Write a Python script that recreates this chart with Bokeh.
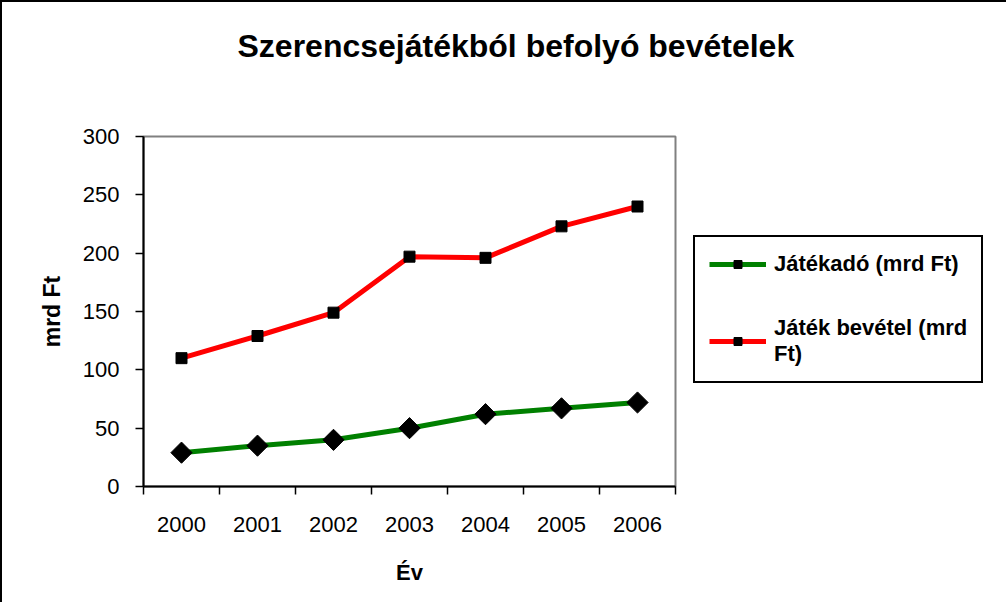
from bokeh.plotting import figure
from bokeh.models import Range1d, FixedTicker, Legend, LegendItem, Title
from bokeh.embed import file_html
from bokeh.resources import INLINE

# ---- data ----
years = ["2000", "2001", "2002", "2003", "2004", "2005", "2006"]
jatekado = [29, 35, 40, 50, 62, 67, 72]          # Játékadó (mrd Ft)
bevetel = [110, 129, 149, 197, 196, 223, 240]    # Játék bevétel (mrd Ft)
y_ticks = [0, 50, 100, 150, 200, 250, 300]

title_text = "Szerencsejátékból befolyó bevételek"
x_label = "Év"
y_label = "mrd Ft"
legend_labels = ["Játékadó (mrd Ft)", "Játék bevétel (mrd\nFt)"]

FONT = "Liberation Sans"

n = len(years)
xs = [i + 0.5 for i in range(n)]

p = figure(frame_width=532, frame_height=350, output_backend="svg", toolbar_location=None,
           x_range=Range1d(0, n), y_range=Range1d(y_ticks[0], y_ticks[-1]),
           min_border_left=141, min_border_right=323,
           min_border_top=134, min_border_bottom=116)
p.styles = {"border-left": "2px solid black", "border-top": "2px solid black"}
p.grid.visible = False
p.background_fill_color = "white"
p.border_fill_color = "white"
p.outline_line_color = "#808080"
p.outline_line_width = 2

# x axis: labels centred in categories, tick marks between categories
xa = p.xaxis[0]
xa.ticker = FixedTicker(ticks=xs, minor_ticks=list(range(n + 1)))
xa.major_label_overrides = {x: y for x, y in zip(xs, years)}
xa.major_tick_out = 0
xa.major_tick_in = 0
xa.minor_tick_out = 8
xa.minor_tick_in = 0
xa.minor_tick_line_color = "black"
xa.minor_tick_line_width = 1.5
xa.axis_line_color = "black"
xa.axis_line_width = 2
xa.major_label_text_font = FONT
xa.major_label_text_font_size = "22px"
xa.major_label_text_color = "black"
xa.major_label_standoff = 22
xa.axis_label = x_label
xa.axis_label_text_font = FONT
xa.axis_label_text_font_style = "bold"
xa.axis_label_text_font_size = "22px"
xa.axis_label_text_color = "black"
xa.axis_label_standoff = 25

ya = p.yaxis[0]
ya.ticker = FixedTicker(ticks=y_ticks, minor_ticks=[])
ya.major_tick_out = 8
ya.major_tick_in = 0
ya.major_tick_line_color = "black"
ya.major_tick_line_width = 1.5
ya.minor_tick_out = 0
ya.minor_tick_in = 0
ya.axis_line_color = "black"
ya.axis_line_width = 2
ya.major_label_text_font = FONT
ya.major_label_text_font_size = "22px"
ya.major_label_text_color = "black"
ya.major_label_standoff = 16
ya.axis_label = y_label
ya.axis_label_text_font = FONT
ya.axis_label_text_font_style = "bold"
ya.axis_label_text_font_size = "23px"
ya.axis_label_text_color = "black"
ya.axis_label_standoff = 15

gl = p.line(xs, jatekado, line_color="#008000", line_width=5)
gm = p.scatter(xs, jatekado, marker="square", angle=0.785398, size=15,
               fill_color="black", line_color="black")
rl = p.line(xs, bevetel, line_color="#FF0000", line_width=5)
rm = p.scatter(xs, bevetel, marker="square", size=11,
               fill_color="black", line_color="black")

legend = Legend(items=[LegendItem(label=legend_labels[0], renderers=[gl, gm]),
                       LegendItem(label=legend_labels[1], renderers=[rl, rm])],
                location=(18, 103))
legend.border_line_color = "black"
legend.border_line_alpha = 1
legend.border_line_width = 2
legend.background_fill_color = "white"
legend.background_fill_alpha = 1
legend.label_text_font = FONT
legend.label_text_font_style = "bold"
legend.label_text_font_size = "22px"
legend.label_text_color = "black"
legend.glyph_width = 57
legend.glyph_height = 20
legend.label_standoff = 8
legend.spacing = 38
legend.padding = 14
legend.margin = 0
p.add_layout(legend, "right")

# chart title (outer slot)
p.title.text = title_text
p.title.align = "left"
p.title.offset = 94
p.title.text_font = FONT
p.title.text_font_style = "bold"
p.title.text_font_size = "32px"
p.title.text_color = "black"
p.title.standoff = 0

# empty spacer between the frame and the title
spacer = Title(text=" ", text_font_size="1px", standoff=70)
p.add_layout(spacer, "above")

open("out.html", "w").write(file_html(p, INLINE))
